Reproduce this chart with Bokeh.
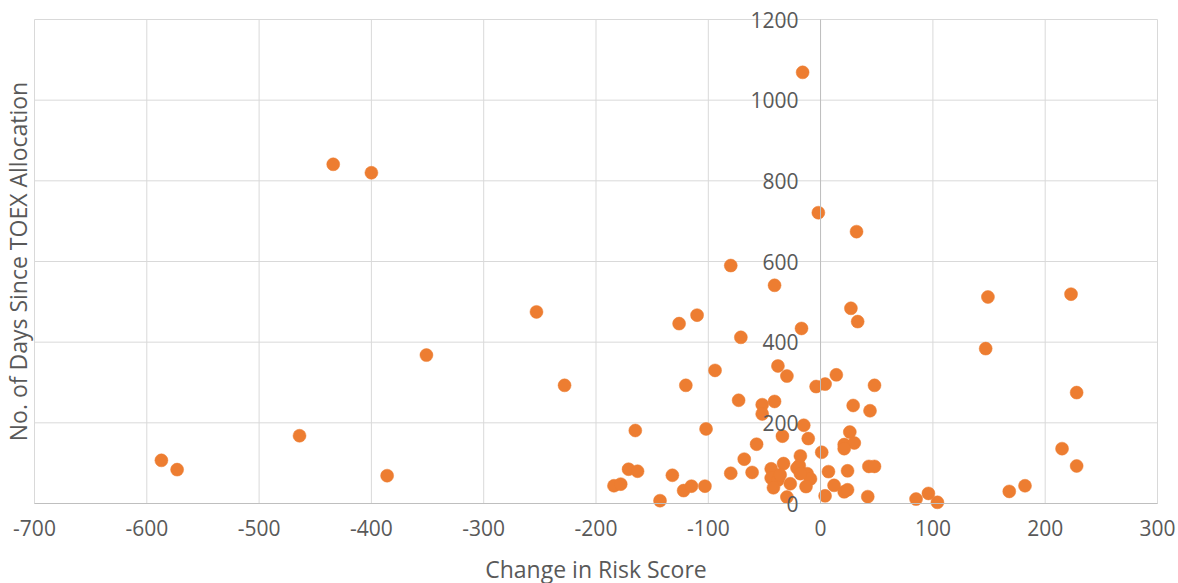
import math
from bokeh.plotting import figure
from bokeh.models import FixedTicker, Range1d, PrintfTickFormatter, Label
from bokeh.embed import file_html
from bokeh.resources import INLINE

# Data
risk_change = [
    -587, -573, -464, -434, -400, -386, -351, -253, -228,
    -184, -178, -171, -163, -165, -143, -132, -126, -122, -120, -115, -110, -103, -102, -94,
    -80, -80, -73, -71, -68, -61, -57, -52, -52, -41, -41, -38, -34, -30, -17, -15, -11, -18, -19,
    -44, -33, -21, -12, -9, -44, -38, -42, -27, -13, -30, -18, -36,
    -16, -2, 32,
    -4, 4, 14, 27, 33, 29, 26, 21, 30, 21, 1, 7, 24, 43, 48, 4, 12, 21, 24, 42, 48, 44,
    85, 96, 104, 147, 149, 168, 182, 215, 223, 228, 228,
]
days_since = [
    107, 84, 168, 841, 820, 69, 368, 475, 293,
    44, 48, 85, 80, 181, 7, 70, 446, 32, 293, 43, 467, 43, 185, 330,
    590, 75, 256, 412, 110, 77, 147, 245, 222, 541, 253, 341, 167, 316, 434, 194, 161, 118, 94,
    86, 99, 88, 74, 61, 63, 58, 39, 49, 42, 16, 74, 71,
    1069, 721, 674,
    290, 296, 319, 484, 451, 243, 177, 146, 150, 136, 127, 79, 81, 92, 92, 19, 45, 29, 34, 17, 293, 230,
    11, 25, 3, 384, 512, 30, 44, 136, 519, 275, 93,
]
x_ticks = [-700, -600, -500, -400, -300, -200, -100, 0, 100, 200, 300]
y_ticks = [0, 200, 400, 600, 800, 1000, 1200]
x_title = "Change in Risk Score"
y_title = "No. of Days Since TOEX Allocation"

FONT = "Open Sans"
TXT = "#595959"
GRID = "#D9D9D9"
AXIS = "#BFBFBF"

# layout (pixels): canvas size, and where the gridded plot area sits on it
W, H = 1178, 583
AREA_LEFT, AREA_RIGHT, AREA_TOP, AREA_BOTTOM = 34, 1157, 19, 503
YTITLE_X = 17
XMIN, XMAX = x_ticks[0], x_ticks[-1]
YMIN, YMAX = y_ticks[0], y_ticks[-1]

# the frame fills the whole canvas so that axis texts drawn in it are not clipped
sx = (AREA_RIGHT - AREA_LEFT) / (XMAX - XMIN)
sy = (AREA_BOTTOM - AREA_TOP) / (YMAX - YMIN)
x_start = XMIN - AREA_LEFT / sx
x_end = XMAX + (W - AREA_RIGHT) / sx
y_start = YMIN - (H - AREA_BOTTOM) / sy
y_end = YMAX + AREA_TOP / sy

p = figure(
    output_backend="svg", toolbar_location=None,
    width=W, height=H,
    x_range=Range1d(x_start, x_end), y_range=Range1d(y_start, y_end),
    min_border=0,
    background_fill_color="white", border_fill_color="white",
)
p.outline_line_color = None
p.grid.visible = False

# gridlines limited to the plot area
p.segment(x0=[XMIN] * len(y_ticks), y0=y_ticks, x1=[XMAX] * len(y_ticks), y1=y_ticks,
          line_color=GRID, line_width=1)
p.segment(x0=x_ticks, y0=[YMIN] * len(x_ticks), x1=x_ticks, y1=[YMAX] * len(x_ticks),
          line_color=GRID, line_width=1)

# vertical axis crosses at x = 0
yax = p.yaxis[0]
yax.fixed_location = 0
yax.bounds = (YMIN, YMAX)
yax.ticker = FixedTicker(ticks=y_ticks)
yax.formatter = PrintfTickFormatter(format="%d")
yax.major_tick_out = 0
yax.major_tick_in = 0
yax.minor_tick_out = 0
yax.minor_tick_in = 0
yax.axis_line_color = AXIS
yax.major_label_standoff = 22
yax.major_label_text_font = FONT
yax.major_label_text_font_size = "21px"
yax.major_label_text_color = TXT

# horizontal axis at y = 0
xax = p.xaxis[0]
xax.fixed_location = 0
xax.bounds = (XMIN, XMAX)
xax.ticker = FixedTicker(ticks=x_ticks)
xax.formatter = PrintfTickFormatter(format="%d")
xax.major_tick_out = 0
xax.major_tick_in = 0
xax.minor_tick_out = 0
xax.minor_tick_in = 0
xax.axis_line_color = AXIS
xax.major_label_standoff = 16
xax.major_label_text_font = FONT
xax.major_label_text_font_size = "21px"
xax.major_label_text_color = TXT
xax.axis_label = x_title
xax.axis_label_standoff = 14
xax.axis_label_text_font = FONT
xax.axis_label_text_font_size = "23px"
xax.axis_label_text_font_style = "normal"
xax.axis_label_text_color = TXT

p.add_layout(Label(x=YTITLE_X, y=H - (AREA_TOP + AREA_BOTTOM) / 2,
                   x_units="screen", y_units="screen", angle=math.pi / 2,
                   text=y_title, text_align="center", text_baseline="middle",
                   text_font=FONT, text_font_size="23px", text_color=TXT))

p.scatter(risk_change, days_since, size=13, fill_color="#ED7D31", line_color="#ED7D31",
          line_width=0.5)

open("out.html", "w").write(file_html(p, INLINE))
